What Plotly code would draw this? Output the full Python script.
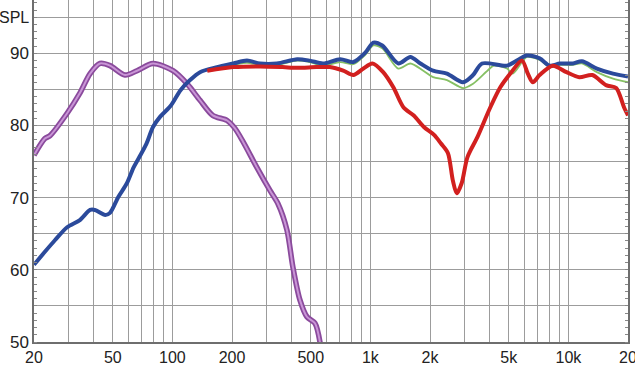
import plotly.graph_objects as go

# ---- data (frequency in Hz, level in dB SPL) ----
purple_f = [20, 22.7, 24.1, 29.4, 34.1, 38.4, 43.1, 48.4, 57.6, 66.3, 79.8, 100.7, 118.5,
            137.9, 160, 189, 207, 227, 267, 311, 341, 379, 406, 441, 478, 525, 557]
purple_db = [75.9, 78.2, 78.6, 81.7, 84.5, 87.2, 88.6, 88.3, 87.0, 87.6, 88.6, 87.6, 85.8,
             83.5, 81.4, 80.7, 79.6, 77.8, 74.2, 71.0, 69.2, 65.5, 60.4, 55.8, 53.5, 52.6, 49.9]

blue_f = [20, 22.7, 25.5, 29.4, 34.1, 38.4, 40.6, 45.8, 48.4, 53.3, 58.9, 63.7, 68.0, 74.0,
          79.8, 86.6, 97.8, 109.9, 122.8, 137.9, 168, 203, 238, 277, 337, 427, 494, 577,
          705, 820, 942, 1035, 1148, 1384, 1591, 1789, 2073, 2436, 2937, 3300, 3664,
          4894, 5487, 6164, 7160, 8050, 9050, 10530, 11700, 13920, 16800, 20000]
blue_db = [60.7, 62.5, 64.1, 65.9, 66.9, 68.3, 68.3, 67.6, 67.9, 70.1, 72.0, 74.2, 75.6, 77.5,
           79.8, 81.2, 82.7, 84.9, 86.3, 87.4, 88.1, 88.6, 89.0, 88.6, 88.6, 89.2, 89.0, 88.6,
           89.2, 88.8, 90.1, 91.5, 91.1, 88.6, 89.5, 88.6, 87.6, 87.2, 86.0, 87.0, 88.6,
           88.3, 89.0, 89.7, 89.3, 88.3, 88.6, 88.6, 88.9, 87.9, 87.2, 86.8]

green_f = [150, 203, 238, 277, 337, 427, 494, 577, 705, 820, 942, 1035, 1148, 1384, 1591,
           1850, 2073, 2436, 2937, 3300, 3900, 4200, 4894, 5230, 5830, 6164, 7160, 8050,
           9050, 10530, 11700, 13920, 16800, 20000]
green_db = [87.7, 88.4, 88.7, 88.4, 88.4, 89.0, 88.8, 88.3, 88.8, 88.5, 89.8, 91.1, 90.7,
            87.9, 88.6, 87.6, 86.7, 86.3, 85.2, 85.8, 87.6, 88.3, 87.9, 87.2, 88.8, 89.5,
            89.1, 88.1, 88.4, 88.4, 88.6, 87.4, 86.5, 86.0]

red_f = [150, 203, 277, 360, 427, 533, 624, 729, 820, 922, 1024, 1160, 1306, 1471, 1656,
         1863, 2097, 2273, 2462, 2608, 2730, 2890, 3090, 3470, 4030, 4530, 5090, 5830,
         6240, 6610, 7160, 8330, 9780, 11350, 13200, 15490, 17430, 19110, 20000]
red_db = [87.6, 88.1, 88.2, 88.1, 88.0, 88.1, 88.1, 87.6, 87.0, 87.9, 88.6, 87.4, 85.3,
          82.5, 81.4, 79.8, 78.7, 77.5, 76.2, 72.4, 70.6, 72.0, 75.6, 78.4, 82.5, 85.3,
          87.2, 89.0, 87.2, 86.0, 87.0, 88.3, 87.4, 86.7, 87.0, 85.6, 85.2, 82.5, 81.4]

x_grid = [20, 30, 40, 50, 60, 70, 80, 90, 100, 200, 300, 400, 500, 600, 700, 800, 900,
          1000, 2000, 3000, 4000, 5000, 6000, 7000, 8000, 9000, 10000, 20000]
x_labels = {20: "20", 50: "50", 100: "100", 200: "200", 500: "500", 1000: "1k",
            2000: "2k", 5000: "5k", 10000: "10k", 20000: "20"}
y_grid = [50, 55, 60, 65, 70, 75, 80, 85, 90, 95]
y_labels = {50: "50", 60: "60", 70: "70", 80: "80", 90: "90"}

fig = go.Figure()
sp = dict(shape="spline", smoothing=0.8)
fig.add_trace(go.Scatter(x=purple_f, y=purple_db, mode="lines",
                         line=dict(color="#8A4A9C", width=5.5, **sp)))
fig.add_trace(go.Scatter(x=purple_f, y=purple_db, mode="lines",
                         line=dict(color="#C995D6", width=2, **sp)))
fig.add_trace(go.Scatter(x=green_f, y=green_db, mode="lines",
                         line=dict(color="#86C064", width=1.8, **sp)))
fig.add_trace(go.Scatter(x=blue_f, y=blue_db, mode="lines",
                         line=dict(color="#2B4A9B", width=4, **sp)))
fig.add_trace(go.Scatter(x=red_f, y=red_db, mode="lines",
                         line=dict(color="#D2201F", width=4, **sp)))

font = dict(family="Liberation Sans, Arial, sans-serif", color="#222222")
fig.update_layout(
    width=635, height=370,
    margin=dict(l=34, r=7, t=0, b=28),
    paper_bgcolor="white", plot_bgcolor="white",
    showlegend=False,
    font=font,
    xaxis=dict(type="log", range=[1.30103, 4.30103],
               tickmode="array", tickvals=x_grid,
               ticktext=[x_labels.get(v, "") for v in x_grid],
               showgrid=True, gridcolor="#9C9C9C", gridwidth=1,
               showline=True, linecolor="#6E6E6E", linewidth=1.5,
               ticks="", tickfont=dict(size=16), zeroline=False, automargin=False,
               ticklabeloverflow="allow"),
    yaxis=dict(range=[50, 97.4],
               tickmode="array", tickvals=y_grid,
               ticktext=[y_labels.get(v, "") for v in y_grid],
               showgrid=True, gridcolor="#9C9C9C", gridwidth=1,
               showline=True, linecolor="#6E6E6E", linewidth=1.5,
               mirror="allticks", ticks="", tickfont=dict(size=17),
               minor=dict(dtick=1, tick0=50, ticks="inside", ticklen=3,
                          tickcolor="#888888", showgrid=False),
               zeroline=False, automargin=False),
    annotations=[dict(text="SPL", xref="paper", yref="paper", x=0, y=0.95,
                      xanchor="right", yanchor="middle", xshift=-3, showarrow=False,
                      font=dict(size=16, color="#222222"))],
)

fig.write_html("out.html", config={"displayModeBar": False},
               post_script="document.body.style.margin='0';document.body.style.padding='0';")
